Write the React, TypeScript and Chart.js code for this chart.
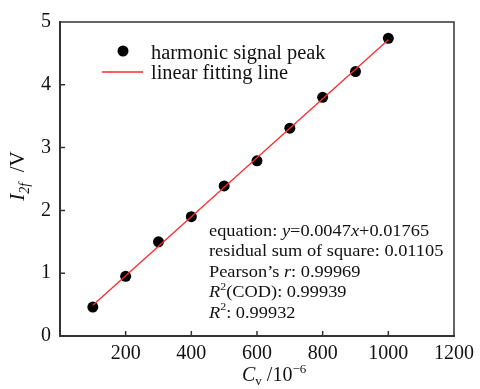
import React, { useEffect, useRef } from "react";
import { Chart, registerables } from "chart.js";

Chart.register(...registerables);

const concentrations = [100, 200, 300, 400, 500, 600, 700, 800, 900, 1000];
const peakValues = [0.46, 0.95, 1.5, 1.9, 2.39, 2.79, 3.31, 3.8, 4.21, 4.74];
const fitX = [100, 1000];
const fitY = [0.488, 4.718];
const xTicks = [0, 200, 400, 600, 800, 1000, 1200];
const yTicks = [0, 1, 2, 3, 4, 5];
const legendLabels = ["harmonic signal peak", "linear fitting line"];

const FONT = "'Liberation Serif', 'Times New Roman', serif";

type Seg = { t: string; it?: boolean; sup?: boolean; sub?: boolean };

function drawSegs(ctx: CanvasRenderingContext2D, segs: Seg[], x: number, y: number, size: number, sx = 1) {
  ctx.save();
  ctx.translate(x, y);
  ctx.scale(sx, 1);
  let cx = 0;
  for (const s of segs) {
    const sz = s.sup || s.sub ? Math.round(size * 0.65) : size;
    ctx.font = `${s.it ? "italic " : ""}${sz}px ${FONT}`;
    let dy = 0;
    if (s.sup) dy = -size * 0.42;
    if (s.sub) dy = size * 0.22;
    ctx.fillText(s.t, cx, dy);
    cx += ctx.measureText(s.t).width;
  }
  ctx.restore();
  return cx * sx;
}

function measureSegs(ctx: CanvasRenderingContext2D, segs: Seg[], size: number) {
  let w = 0;
  for (const s of segs) {
    const sz = s.sup || s.sub ? Math.round(size * 0.65) : size;
    ctx.font = `${s.it ? "italic " : ""}${sz}px ${FONT}`;
    w += ctx.measureText(s.t).width;
  }
  return w;
}

const annotationLines: Seg[][] = [
  [{ t: "equation: " }, { t: "y", it: true }, { t: "=0.0047" }, { t: "x", it: true }, { t: "+0.01765" }],
  [{ t: "residual sum of square: 0.01105" }],
  [{ t: "Pearson\u2019s " }, { t: "r", it: true }, { t: ": 0.99969" }],
  [{ t: "R", it: true }, { t: "2", sup: true }, { t: "(COD): 0.99939" }],
  [{ t: "R", it: true }, { t: "2", sup: true }, { t: ": 0.99932" }],
];

const decorPlugin = {
  id: "decor",
  afterDatasetsDraw(chart: any) {
    const ctx: CanvasRenderingContext2D = chart.ctx;
    const { left, right, top, bottom } = chart.chartArea;
    const xs = chart.scales.x;
    const ys = chart.scales.y;
    ctx.save();
    ctx.strokeStyle = "#333";
    ctx.lineWidth = 1.5;
    ctx.beginPath();
    ctx.moveTo(left, top);
    ctx.lineTo(right, top);
    ctx.lineTo(right, bottom);
    ctx.stroke();
    ctx.beginPath();
    for (const v of xTicks) {
      if (v === 0 || v === 1200) continue;
      const px = xs.getPixelForValue(v);
      ctx.moveTo(px, bottom);
      ctx.lineTo(px, bottom - 5);
    }
    for (const v of yTicks) {
      if (v === 0 || v === 5) continue;
      const py = ys.getPixelForValue(v);
      ctx.moveTo(left, py);
      ctx.lineTo(left + 5, py);
    }
    ctx.stroke();

    // legend
    ctx.fillStyle = "#000";
    ctx.beginPath();
    ctx.arc(123, 51, 5.5, 0, Math.PI * 2);
    ctx.fill();
    ctx.strokeStyle = "#ff2a2a";
    ctx.lineWidth = 1.3;
    ctx.beginPath();
    ctx.moveTo(102, 72);
    ctx.lineTo(143, 72);
    ctx.stroke();
    ctx.fillStyle = "#111";
    ctx.textBaseline = "alphabetic";
    ctx.textAlign = "left";
    drawSegs(ctx, [{ t: legendLabels[0] }], 151, 59, 20, 1.02);
    drawSegs(ctx, [{ t: legendLabels[1] }], 151, 79, 20, 1.02);

    // annotation
    annotationLines.forEach((segs, i) => {
      drawSegs(ctx, segs, 209, 236 + i * 20.4, 17, 1.08);
    });

    // x title
    drawSegs(ctx, [{ t: "C", it: true }, { t: "v", sub: true }, { t: " /10" }, { t: "\u22126", sup: true }], 242, 381, 20);

    // y title
    const ySegs: Seg[] = [{ t: "I", it: true }, { t: "2f", it: true, sub: true }, { t: "  /V" }];
    const w = measureSegs(ctx, ySegs, 21);
    ctx.translate(24, 176);
    ctx.rotate(-Math.PI / 2);
    drawSegs(ctx, ySegs, -w / 2, 0, 21);
    ctx.restore();
  },
};

export default function App() {
  const ref = useRef<HTMLCanvasElement | null>(null);
  useEffect(() => {
    document.body.style.margin = "0";
    const tickFont = { family: FONT, size: 20 };
    const chart = new Chart(ref.current as HTMLCanvasElement, {
      type: "scatter",
      data: {
        datasets: [
          {
            label: legendLabels[1],
            data: fitX.map((x, i) => ({ x, y: fitY[i] })),
            showLine: true,
            borderColor: "#ff2a2a",
            borderWidth: 1.3,
            pointRadius: 0,
            order: 0,
          } as any,
          {
            label: legendLabels[0],
            data: concentrations.map((x, i) => ({ x, y: peakValues[i] })),
            backgroundColor: "#000",
            borderWidth: 0,
            pointRadius: 5.5,
            order: 1,
          },
        ],
      },
      options: {
        animation: false,
        responsive: true,
        maintainAspectRatio: false,
        layout: { padding: { top: 22, right: 23, left: 0, bottom: 0 } },
        plugins: { legend: { display: false }, tooltip: { enabled: false } },
        scales: {
          x: {
            type: "linear",
            min: 0,
            max: 1200,
            afterBuildTicks: (s: any) => {
              s.ticks = xTicks.map((v) => ({ value: v }));
            },
            ticks: {
              font: tickFont,
              color: "#111",
              padding: 6,
              maxRotation: 0,
              callback: (v: any) => (v === 0 ? "" : String(v)),
            },
            grid: { display: false, drawTicks: false },
            border: { display: true, width: 2, color: "#333" },
            afterFit: (s: any) => {
              s.height = 53;
            },
          },
          y: {
            type: "linear",
            min: 0,
            max: 5,
            afterBuildTicks: (s: any) => {
              s.ticks = yTicks.map((v) => ({ value: v }));
            },
            ticks: { font: tickFont, color: "#111", padding: 9 },
            grid: { display: false, drawTicks: false },
            border: { display: true, width: 2, color: "#333" },
            afterFit: (s: any) => {
              s.width = 60;
            },
          },
        },
      },
      plugins: [decorPlugin],
    });
    return () => chart.destroy();
  }, []);
  return (
    <div style={{ position: "relative", width: 480, height: 389, background: "#fff" }}>
      <canvas ref={ref} />
    </div>
  );
}
